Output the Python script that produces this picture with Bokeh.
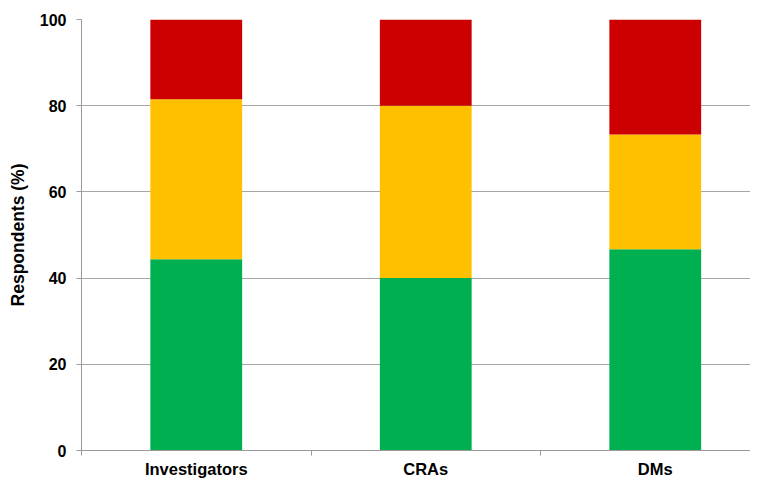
from bokeh.plotting import figure
from bokeh.models import ColumnDataSource, FixedTicker, Range1d
from bokeh.embed import file_html
from bokeh.resources import INLINE

categories = ["Investigators", "CRAs", "DMs"]
green = [44.4, 40.0, 46.7]
yellow = [37.1, 40.0, 26.6]
red = [18.5, 20.0, 26.7]
y_ticks = [0, 20, 40, 60, 80, 100]

xpos = [i + 0.5 for i in range(len(categories))]
source = ColumnDataSource(dict(x=xpos, green=green, yellow=yellow, red=red))

p = figure(width=750, height=480, output_backend="svg", toolbar_location=None,
           x_range=Range1d(0, 2.915), y_range=Range1d(0, 100),
           min_border_left=81, min_border_top=19, min_border_right=0, min_border_bottom=0)
p.outline_line_color = None

p.vbar_stack(["green", "yellow", "red"], x="x", width=0.4, source=source,
             color=["#00B050", "#FFC000", "#CC0000"], line_color=None)

FONT = "Liberation Sans"
# x axis
p.xaxis.ticker = FixedTicker(ticks=xpos, minor_ticks=[0, 1, 2])
p.xaxis.major_label_overrides = {x: c for x, c in zip(xpos, categories)}
p.xaxis.major_tick_out = 0
p.xaxis.major_tick_in = 0
p.xaxis.minor_tick_out = 5
p.xaxis.minor_tick_in = 0
p.xaxis.minor_tick_line_color = "#999999"
p.xaxis.axis_line_color = "#999999"
p.xaxis.major_label_standoff = 4
p.xaxis.major_label_text_font = FONT
p.xaxis.major_label_text_font_style = "bold"
p.xaxis.major_label_text_font_size = "16.5px"
p.xaxis.major_label_text_color = "black"
p.xgrid.visible = False

# y axis
p.yaxis.ticker = FixedTicker(ticks=y_ticks)
p.yaxis.minor_tick_line_color = None
p.yaxis.major_tick_out = 5
p.yaxis.major_tick_in = 0
p.yaxis.major_tick_line_color = "#999999"
p.yaxis.axis_line_color = "#999999"
p.yaxis.major_label_standoff = 10
p.yaxis.major_label_text_font = FONT
p.yaxis.major_label_text_font_style = "bold"
p.yaxis.major_label_text_font_size = "16px"
p.yaxis.major_label_text_color = "black"
p.yaxis.axis_label = "Respondents (%)"
p.yaxis.axis_label_text_font = FONT
p.yaxis.axis_label_text_font_style = "bold"
p.yaxis.axis_label_text_font_size = "17.5px"
p.yaxis.axis_label_text_color = "black"
p.yaxis.axis_label_standoff = 9
p.ygrid.grid_line_color = "#A6A6A6"
p.ygrid.grid_line_width = 1

open("out.html", "w").write(file_html(p, INLINE))
